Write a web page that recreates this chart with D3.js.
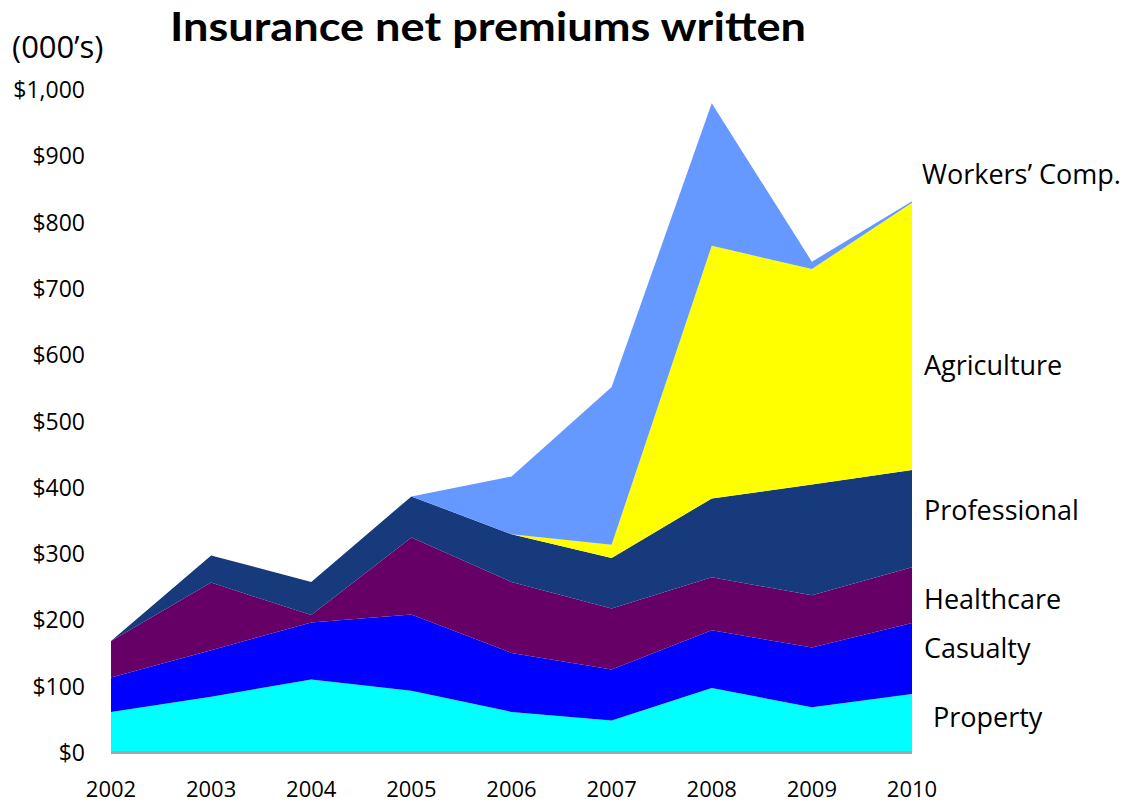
<!DOCTYPE html>
<html>
<head>
    <title>Insurance net premiums written</title>
    <script src="https://d3js.org/d3.v7.min.js"></script>
    <style>
        body {
            margin: 0;
            background: white;
            font-family: "Open Sans", Arial, sans-serif;
        }
    </style>
</head>
<body>
    <div id="chart"></div>

    <script>
        // values in $000's
        const years = [2002, 2003, 2004, 2005, 2006, 2007, 2008, 2009, 2010];
        const property     = [59, 82, 108, 91, 59, 46, 95, 66, 86];
        const casualty     = [52, 70, 86, 115, 89, 77, 87, 90, 107];
        const healthcare   = [55, 102, 11, 116, 107, 92, 80, 79, 84];
        const professional = [0, 41, 50, 62, 72, 76, 119, 167, 147];
        const agriculture  = [0, 0, 0, 0, 0, 20, 381, 325, 403];
        const workersComp  = [0, 0, 0, 0, 87, 238, 215, 11, 2];

        const seriesNames = ["Property", "Casualty", "Healthcare", "Professional", "Agriculture", "Workers’ Comp."];
        const seriesColors = ["#00FFFF", "#0000FF", "#660066", "#163A7B", "#FFFF00", "#6699FF"];
        const yTicks = [0, 100, 200, 300, 400, 500, 600, 700, 800, 900, 1000];

        const width = 1131, height = 805;

        var xScale = d3.scaleLinear().domain([2002, 2010]).range([111, 912]);
        var yScale = d3.scaleLinear().domain([0, 1000]).range([751, 88]);

        var svg = d3.select("#chart").append("svg")
            .attr("width", width)
            .attr("height", height);

        var allSeries = [property, casualty, healthcare, professional, agriculture, workersComp];
        var table = years.map((yr, i) => {
            var row = {year: yr};
            seriesNames.forEach((name, j) => row[name] = allSeries[j][i]);
            return row;
        });

        var stacked = d3.stack().keys(seriesNames)(table);

        var area = d3.area()
            .x(d => xScale(d.data.year))
            .y0(d => yScale(d[0]))
            .y1(d => yScale(d[1]));

        svg.selectAll(".layer")
            .data(stacked)
            .enter().append("path")
            .attr("class", "layer")
            .attr("fill", (d, i) => seriesColors[i])
            .attr("d", area);

        // x axis line
        svg.append("line")
            .attr("x1", xScale(2002))
            .attr("x2", xScale(2010))
            .attr("y1", yScale(0) + 1.5)
            .attr("y2", yScale(0) + 1.5)
            .style("stroke", "#A6A6A6")
            .style("stroke-width", 3);

        // y tick labels
        svg.selectAll(".ytick")
            .data(yTicks)
            .enter().append("text")
            .attr("class", "ytick")
            .attr("x", 85)
            .attr("y", d => yScale(d) + 2)
            .attr("dy", "0.35em")
            .style("text-anchor", "end")
            .style("font-size", "23px")
            .text(d => "$" + d3.format(",")(d));

        // x tick labels
        svg.selectAll(".xtick")
            .data(years)
            .enter().append("text")
            .attr("class", "xtick")
            .attr("x", d => xScale(d))
            .attr("y", 789)
            .attr("dy", "0.35em")
            .style("text-anchor", "middle")
            .style("font-size", "22px")
            .text(d => d);

        // series labels on the right
        const labelValues = [50, 155, 229, 363, 581, 870];
        const labelX = [933, 924, 924, 924, 924, 922];
        svg.selectAll(".slabel")
            .data(seriesNames)
            .enter().append("text")
            .attr("class", "slabel")
            .attr("x", (d, i) => labelX[i])
            .attr("y", (d, i) => yScale(labelValues[i]))
            .attr("dy", "0.35em")
            .style("font-size", "27px")
            .text(d => d);

        // units
        svg.append("text")
            .attr("x", 12)
            .attr("y", 47)
            .attr("dy", "0.35em")
            .style("font-size", "31px")
            .text("(000’s)");

        // title
        svg.append("text")
            .attr("x", 170)
            .attr("y", 41)
            .attr("textLength", 636)
            .attr("lengthAdjust", "spacingAndGlyphs")
            .style("font-family", "Lato, 'Open Sans', sans-serif")
            .style("font-size", "40px")
            .style("font-weight", "bold")
            .text("Insurance net premiums written");
    </script>
</body>
</html>
